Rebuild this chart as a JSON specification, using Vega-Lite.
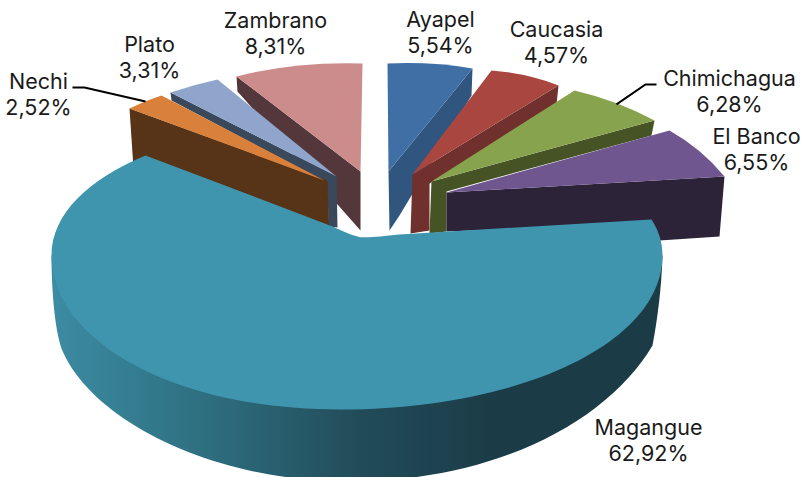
{
"$schema":"https://vega.github.io/schema/vega-lite/v6.json",
"width":801,"height":477,"padding":0,
"autosize":{"type":"fit","contains":"padding"},
"background":"white",
"view":{"stroke":null},
"config":{"text":{"font":"Inter"}},
"data":{"values":[
{"municipio":"Zambrano","share":8.31,"label":"Zambrano\n8,31%"},
{"municipio":"Plato","share":3.31,"label":"Plato\n3,31%"},
{"municipio":"Nechi","share":2.52,"label":"Nechi\n2,52%"},
{"municipio":"Ayapel","share":5.54,"label":"Ayapel\n5,54%"},
{"municipio":"Caucasia","share":4.57,"label":"Caucasia\n4,57%"},
{"municipio":"Chimichagua","share":6.28,"label":"Chimichagua\n6,28%"},
{"municipio":"El Banco","share":6.55,"label":"El Banco\n6,55%"},
{"municipio":"Magangue","share":62.92,"label":"Magangue\n62,92%"}
]},
"encoding":{
"x":{"datum":400,"type":"quantitative","scale":{"domain":[0,801]},"axis":null},
"y":{"datum":243,"type":"quantitative","scale":{"domain":[0,477],"reverse":true},"axis":null}
},
"resolve":{"scale":{"shape":"independent","color":"independent"}},
"layer":[
{"transform":[{"filter":"datum.municipio !== 'Magangue'"}],
 "mark":{"type":"point","filled":true,"opacity":1,"strokeWidth":0,"size":4},
 "encoding":{
  "shape":{"field":"municipio","type":"nominal","legend":null,"scale":{
   "domain":["Zambrano","Plato","Nechi","Ayapel","Caucasia","Chimichagua","El Banco"],
   "range":["M-163,-162 L-162,-147 L-39,-8 L-39,-67 Z","M-229,-146 L-228,-138 L-72,-55 L-71,-12 L-62,-11 L-63,-62 Z","M-270,-130 L-266,-70 L-70,0 L-72,-58 Z","M73,-170 L72,-143 L0,-23 L-10,-8 L-11,-67 Z","M159,-153 L157,-134 L30,-55 L30,-8 L11,-5 L13,-64 Z","M255,-118 L252,-103 L47,-47 L47,-7 L30,-5 L32,-57 Z","M325,-62 L320,-2 L260,2 L250,-15 L47,-7 L47,-46 Z"]}},
  "color":{"field":"municipio","type":"nominal","legend":null,"scale":{
   "domain":["Zambrano","Plato","Nechi","Ayapel","Caucasia","Chimichagua","El Banco"],
   "range":["#54373A","#3A485C","#573418","#30567F","#70302D","#465325","#2D2338"]}}
 }},
{"transform":[{"filter":"datum.municipio !== 'Magangue'"}],
 "mark":{"type":"point","filled":true,"opacity":1,"strokeWidth":0,"size":4},
 "encoding":{
  "shape":{"field":"municipio","type":"nominal","legend":null,"scale":{
   "domain":["Zambrano","Plato","Nechi","Ayapel","Caucasia","Chimichagua","El Banco"],
   "range":["M-163,-162 Q-105,-177 -37,-175 L-39,-67 Z","M-229,-146 Q-205,-154 -182,-159 L-63,-62 Z","M-270,-130 Q-254,-138 -238,-143 L-75,-58 Z","M-12,-175 Q32,-177 73,-170 L-11,-67 Z","M92,-168 Q128,-165 159,-153 L13,-64 Z","M175,-148 Q218,-138 255,-118 L32,-57 Z","M270,-108 Q302,-90 325,-62 L47,-46 Z"]}},
  "color":{"field":"municipio","type":"nominal","legend":null,"scale":{
   "domain":["Zambrano","Plato","Nechi","Ayapel","Caucasia","Chimichagua","El Banco"],
   "range":["#CD8C8C","#8FA5CC","#D9813B","#3F6FA5","#A9463F","#88A34D","#6F568F"]}}
 }},
{"transform":[{"filter":"datum.municipio === 'Magangue'"}],
 "mark":{"type":"point","filled":true,"opacity":1,"strokeWidth":0,"size":4,
  "shape":"M-348,17 C-348,50 -345,90 -338,110 C-310,180 -190,243 -50,243 C100,243 210,180 253,107 C258,80 262,50 263,17 Z",
  "fill":{"gradient":"linear","x1":0,"x2":1,"y1":0,"y2":0,"stops":[{"offset":0,"color":"#3C8CA3"},{"offset":0.25,"color":"#2E6F80"},{"offset":0.5,"color":"#224C5A"},{"offset":0.72,"color":"#1B3C47"},{"offset":1,"color":"#1B3C47"}]}}},
{"transform":[{"filter":"datum.municipio === 'Magangue'"}],
 "mark":{"type":"point","filled":true,"opacity":1,"strokeWidth":0,"size":4,"color":"#3F95AE",
  "shape":"M-254,-83 C-310,-60 -348,-25 -348,17 C-348,100 -230,171 -60,171 C120,171 263,105 263,17 C263,3 259,-8 252,-19 L0,-4 C-20,-2 -35,0 -42,-2 C-50,-4 -58,-8 -67,-12 Z"}},
{"transform":[{"filter":"datum.municipio === 'Nechi' || datum.municipio === 'Chimichagua'"}],
 "mark":{"type":"point","filled":false,"opacity":1,"strokeWidth":2,"size":4,"color":"black"},
 "encoding":{"shape":{"field":"municipio","type":"nominal","legend":null,"scale":{"domain":["Nechi","Chimichagua"],"range":["M-327,-151 L-315,-151 L-254,-137","M257,-154 L246,-154 L217,-134"]}}}},
{"transform":[{"filter":"datum.municipio === 'Zambrano'"}],"mark":{"type":"text","fontSize":21.5,"lineHeight":26,"lineBreak":"\n","align":"center","baseline":"middle","color":"#1a1a1a","dx":-124,"dy":-216},"encoding":{"text":{"field":"label"}}},
{"transform":[{"filter":"datum.municipio === 'Plato'"}],"mark":{"type":"text","fontSize":21.5,"lineHeight":26,"lineBreak":"\n","align":"center","baseline":"middle","color":"#1a1a1a","dx":-250,"dy":-192},"encoding":{"text":{"field":"label"}}},
{"transform":[{"filter":"datum.municipio === 'Nechi'"}],"mark":{"type":"text","fontSize":21.5,"lineHeight":26,"lineBreak":"\n","align":"center","baseline":"middle","color":"#1a1a1a","dx":-361,"dy":-155},"encoding":{"text":{"field":"label"}}},
{"transform":[{"filter":"datum.municipio === 'Ayapel'"}],"mark":{"type":"text","fontSize":21.5,"lineHeight":26,"lineBreak":"\n","align":"center","baseline":"middle","color":"#1a1a1a","dx":41,"dy":-217},"encoding":{"text":{"field":"label"}}},
{"transform":[{"filter":"datum.municipio === 'Caucasia'"}],"mark":{"type":"text","fontSize":21.5,"lineHeight":26,"lineBreak":"\n","align":"center","baseline":"middle","color":"#1a1a1a","dx":157,"dy":-207},"encoding":{"text":{"field":"label"}}},
{"transform":[{"filter":"datum.municipio === 'Chimichagua'"}],"mark":{"type":"text","fontSize":21.5,"lineHeight":26,"lineBreak":"\n","align":"center","baseline":"middle","color":"#1a1a1a","dx":330,"dy":-158},"encoding":{"text":{"field":"label"}}},
{"transform":[{"filter":"datum.municipio === 'El Banco'"}],"mark":{"type":"text","fontSize":21.5,"lineHeight":26,"lineBreak":"\n","align":"center","baseline":"middle","color":"#1a1a1a","dx":357,"dy":-100},"encoding":{"text":{"field":"label"}}},
{"transform":[{"filter":"datum.municipio === 'Magangue'"}],"mark":{"type":"text","fontSize":21.5,"lineHeight":26,"lineBreak":"\n","align":"center","baseline":"middle","color":"#1a1a1a","dx":249,"dy":191},"encoding":{"text":{"field":"label"}}}
]
}
